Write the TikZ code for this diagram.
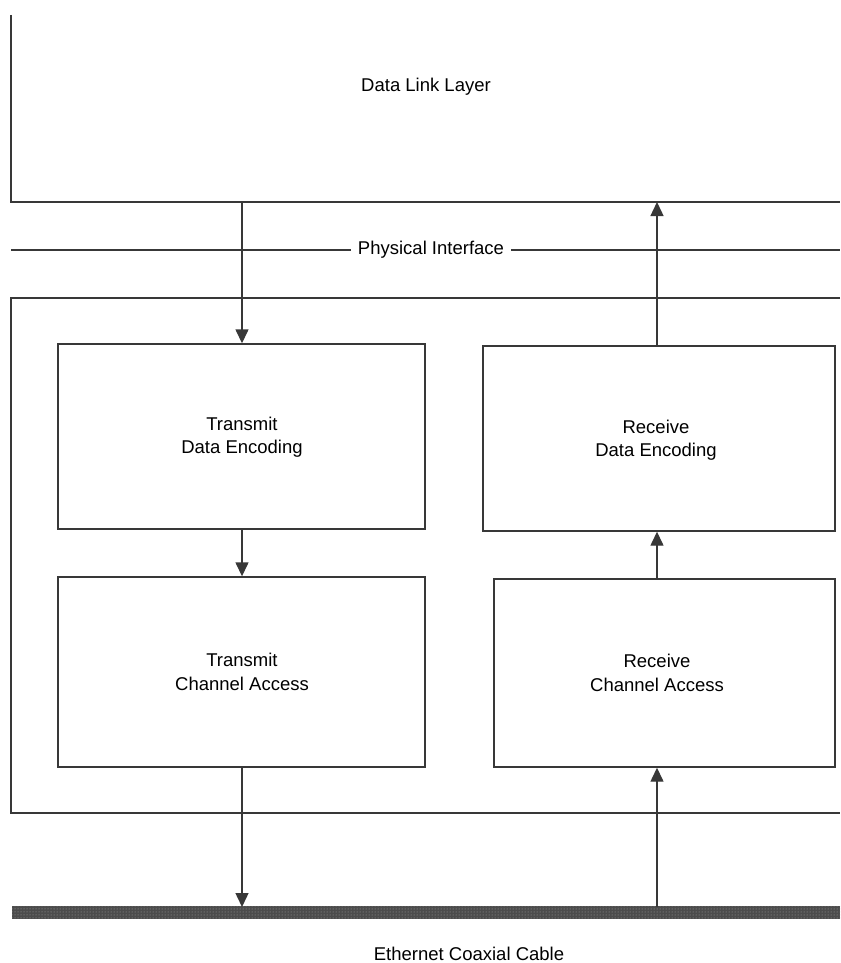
\documentclass[tikz,border=0pt]{standalone}
\usepackage{fontspec}
\setmainfont{Liberation Sans}
\usetikzlibrary{arrows.meta,patterns}
\begin{document}
\begin{tikzpicture}[x=1pt,y=-1pt,
  line/.style={draw=black!78,line width=1.4pt},
  arr/.style={line,-{Triangle[width=13pt,length=14pt]}},
  block/.style={line,rectangle,inner sep=0pt},
  lbl/.style={font=\fontsize{18.5}{23.5}\selectfont,inner sep=0pt,align=center}]
\useasboundingbox (0,0) rectangle (840,963);

% data link layer (open to the right and top)
\draw[line] (11,15) -- (11,202) -- (840,202);
\node[lbl] (dll) at (426,87) {Data Link Layer};

% physical interface line
\node[lbl,fill=white,inner xsep=7pt] (phy) at (431,250) {Physical Interface};
\draw[line] (11,250) -- (phy.west);
\draw[line] (phy.east) -- (840,250);

% enclosing frame of the physical layer
\draw[line] (840,298) -- (11,298) -- (11,813) -- (840,813);

% functional blocks
\node[block,minimum width=367pt,minimum height=185pt] (tde) at (241.5,436.5) {};
\node[block,minimum width=352pt,minimum height=185pt] (rde) at (659,438.5) {};
\node[block,minimum width=367pt,minimum height=190pt] (tca) at (241.5,672) {};
\node[block,minimum width=341pt,minimum height=188pt] (rca) at (664.5,673) {};
\node[lbl] (tdet) at (242,437) {Transmit\\Data Encoding};
\node[lbl] (rdet) at (656,440) {Receive\\Data Encoding};
\node[lbl] (tcat) at (242,672) {Transmit\\Channel Access};
\node[lbl] (rcat) at (657,673) {Receive\\Channel Access};

% coaxial cable
\fill[black!70] (12,906) rectangle (840,919);
\fill[pattern=dots,pattern color=black!35] (12,906) rectangle (840,919);
\node[lbl] (cbl) at (469,954) {Ethernet Coaxial Cable};

% connection points
\coordinate (dtx) at (242,202);
\coordinate (drx) at (657,202);
\coordinate (ctx) at (242,907);
\coordinate (crx) at (657,907);

% transmit path
\draw[arr] (dtx) -- (dtx |- tde.north);
\draw[arr] (dtx |- tde.south) -- (dtx |- tca.north);
\draw[arr] (ctx |- tca.south) -- (ctx);

% receive path
\draw[arr] (crx) -- (crx |- rca.south);
\draw[arr] (crx |- rca.north) -- (crx |- rde.south);
\draw[arr] (crx |- rde.north) -- (drx);
\end{tikzpicture}
\end{document}
